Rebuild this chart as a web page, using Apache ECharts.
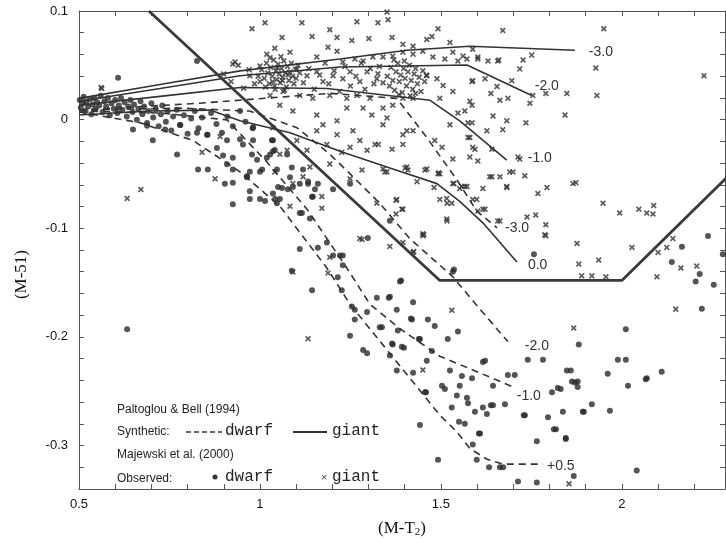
<!DOCTYPE html>
<html>
<head>
<meta charset="utf-8">
<script src="https://cdn.jsdelivr.net/npm/echarts@6/dist/echarts.min.js"></script>
<style>
  html, body { margin: 0; padding: 0; background: #fff; }
  #chart { width: 726px; height: 543px; }
</style>
</head>
<body>
<div id="chart"></div>
<script>
// tick labels
const xTickLabels = [0.5, 1, 1.5, 2];
const yTickLabels = [0.1, 0, -0.1, -0.2, -0.3];

// Paltoglou & Bell (1994) synthetic giants (solid), one per [Fe/H]
const giantM30 = [[0.5,0.0196],[0.724,0.0323],[0.945,0.0449],[1.221,0.0558],[1.406,0.0639],[1.58,0.0675],[1.87,0.0639]];
const giantM20 = [[0.5,0.0169],[0.724,0.0287],[0.945,0.0404],[1.221,0.0485],[1.572,0.0503],[1.751,0.0223]];
const giantM10 = [[0.5,0.0133],[0.724,0.0214],[0.945,0.0296],[1.185,0.0287],[1.47,0.0178],[1.552,-0.0011],[1.682,-0.0372]];
const giantP00 = [[0.5,0.0043],[0.696,0.0079],[0.862,0.0088],[0.945,-0.0011],[1.083,-0.012],[1.229,-0.030],[1.359,-0.0445],[1.489,-0.0589],[1.552,-0.0752],[1.616,-0.095],[1.71,-0.1311]];

// synthetic dwarfs (dashed)
const dwarfM30 = [[0.5,0.0088],[0.834,0.0151],[1.193,0.0242],[1.378,0.0196],[1.461,-0.0165],[1.544,-0.0553],[1.599,-0.0842],[1.655,-0.0996]];
const dwarfM20 = [[0.5,0.0088],[0.779,0.0106],[0.972,0.0079],[1.102,-0.0074],[1.193,-0.0318],[1.249,-0.0499],[1.331,-0.077],[1.414,-0.1095],[1.533,-0.1447],[1.608,-0.1745],[1.685,-0.2043]];
const dwarfM10 = [[0.5,0.0079],[0.724,0.0061],[0.909,-0.0002],[1.019,-0.039],[1.13,-0.0824],[1.24,-0.1366],[1.304,-0.17],[1.387,-0.1925],[1.497,-0.2178],[1.608,-0.2332],[1.704,-0.2467]];
const dwarfP05 = [[0.5,0.007],[0.669,-0.0029],[0.815,-0.0192],[0.945,-0.0481],[1.055,-0.0797],[1.185,-0.1366],[1.249,-0.17],[1.387,-0.2268],[1.497,-0.272],[1.544,-0.2873],[1.58,-0.3027],[1.627,-0.3126],[1.671,-0.3171],[1.782,-0.3171]];

// giant selection boundary (thick)
const boundary = [[0.693,0.1],[1.497,-0.148],[2.0,-0.148],[2.3,-0.05]];

// Majewski et al. (2000) observed dwarfs
const dwarfObs = [
  [0.502,0.018],[0.505,0.011],[0.51,0.015],[0.513,0.021],[0.518,0.008],[0.52,0.016],[0.525,0.012],[0.53,0.019],
  [0.534,0.005],[0.538,0.014],[0.542,0.02],[0.546,0.01],[0.55,0.016],[0.556,0.013],[0.56,0.022],[0.565,0.007],
  [0.57,0.017],[0.575,0.012],[0.58,0.02],[0.585,0.004],[0.59,0.015],[0.596,0.01],[0.6,0.018],[0.606,0.006],
  [0.61,0.013],[0.616,0.02],[0.62,0.009],[0.626,0.016],[0.632,0.003],[0.636,0.012],[0.642,0.018],[0.648,0.007],
  [0.652,0.014],[0.66,0.0],[0.664,0.01],[0.67,0.017],[0.675,0.005],[0.68,0.012],[0.688,-0.003],[0.692,0.008],
  [0.7,0.015],[0.705,0.002],[0.712,0.01],[0.72,-0.006],[0.726,0.005],[0.73,0.013],[0.74,-0.002],[0.745,0.008],
  [0.755,-0.01],[0.76,0.003],[0.77,0.009],[0.78,-0.005],[0.79,0.004],[0.8,-0.013],[0.81,0.001],[0.82,0.008],
  [0.83,-0.008],[0.84,0.002],[0.855,-0.014],[0.865,0.006],[0.88,-0.004],[0.895,-0.012],[0.91,0.003],[0.925,-0.006],
  [0.945,0.008],[0.96,-0.002],[0.98,-0.008],
  [0.608,0.0386],[0.826,0.054],[0.649,-0.009],[0.688,-0.0056],[0.704,-0.019],[0.738,-0.009],[0.771,-0.032],
  [0.779,-0.005],[0.826,-0.012],[0.854,-0.014],[0.881,-0.026],[0.898,-0.033],[0.925,-0.035],[0.909,-0.019],
  [0.945,-0.018],[0.978,-0.032],[0.981,-0.007],[0.829,-0.046],[0.856,-0.046],[0.909,-0.041],[0.925,-0.046],
  [0.903,-0.059],[0.925,-0.058],[0.964,-0.052],[0.972,-0.048],[1.0,-0.048],[1.019,-0.035],[1.028,-0.032],
  [1.036,-0.029],[1.075,-0.032],[1.088,-0.044],[1.083,-0.053],[1.036,-0.068],[1.055,-0.073],[1.047,-0.077],
  [1.0,-0.073],[0.972,-0.073],[0.925,-0.078],[1.061,-0.063],[1.091,-0.062],[1.11,-0.059],[1.133,-0.059],
  [1.16,-0.059],[1.11,-0.086],[1.138,-0.091],[1.146,-0.071],[1.11,-0.119],[1.16,-0.118],[1.185,-0.113],
  [1.202,-0.125],[1.229,-0.125],[1.229,-0.134],[1.298,-0.109],[1.249,-0.059],[1.202,-0.064],[1.036,-0.019],
  [1.047,-0.046],[1.077,-0.064],[1.042,-0.073],[1.116,-0.086],[1.144,-0.071],[1.359,-0.093],[0.633,-0.193],
  [1.014,-0.075],[1.088,-0.139],[1.144,-0.157],[1.221,-0.125],[1.215,-0.145],[1.226,-0.157],[1.254,-0.172],
  [1.262,-0.175],[1.296,-0.177],[1.262,-0.184],[1.323,-0.164],[1.359,-0.163],[1.378,-0.175],[1.423,-0.168],
  [1.387,-0.149],[1.42,-0.184],[1.464,-0.184],[1.483,-0.19],[1.249,-0.199],[1.331,-0.191],[1.381,-0.194],
  [1.365,-0.206],[1.392,-0.209],[1.442,-0.202],[1.285,-0.212],[1.296,-0.215],[1.359,-0.217],[1.378,-0.231],
  [1.423,-0.233],[1.475,-0.213],[1.519,-0.202],[1.547,-0.195],[1.533,-0.14],[1.461,-0.222],[1.456,-0.251],
  [1.503,-0.245],[1.511,-0.248],[1.552,-0.245],[1.558,-0.236],[1.586,-0.238],[1.525,-0.231],[1.572,-0.256],
  [1.575,-0.261],[1.544,-0.254],[1.53,-0.265],[1.594,-0.269],[1.616,-0.265],[1.644,-0.263],[1.644,-0.245],
  [1.622,-0.222],[1.685,-0.235],[1.704,-0.235],[1.677,-0.262],[1.732,-0.272],[1.74,-0.221],[1.782,-0.221],
  [1.807,-0.251],[1.796,-0.274],[1.823,-0.247],
  [2.221,-0.174],[2.011,-0.193],[1.881,-0.207],[1.989,-0.221],[2.011,-0.221],[1.848,-0.231],[1.859,-0.231],
  [1.961,-0.234],[1.862,-0.241],[1.878,-0.241],[1.878,-0.246],[2.11,-0.232],[2.066,-0.239],[2.017,-0.245],
  [1.831,-0.248],[1.917,-0.262],[1.892,-0.269],[1.837,-0.269],[1.967,-0.268],[1.812,-0.285],[1.845,-0.293],
  [1.867,-0.328],[2.041,-0.323],
  [1.757,-0.124],[1.536,-0.138],[2.238,-0.107],[2.166,-0.117],[2.138,-0.131],[2.215,-0.142],[2.204,-0.149],
  [2.254,-0.152],[2.279,-0.124],[1.39,-0.148],[1.356,-0.164],[1.417,-0.183],[1.367,-0.207],[1.398,-0.21],
  [1.439,-0.202],[1.616,-0.223],[1.337,-0.191],
  [1.492,-0.313],[1.588,-0.299],[1.599,-0.313],[1.633,-0.32],[1.663,-0.32],[1.672,-0.32],[1.765,-0.296],
  [1.845,-0.294],[1.713,-0.333],[1.765,-0.334],[1.605,-0.289],
  [1.442,-0.281],[1.459,-0.251],[1.55,-0.278],[1.566,-0.28],[1.608,-0.289],[1.818,-0.285],[1.895,-0.269],
  [1.87,-0.242],[2.069,-0.238],[1.627,-0.271],[1.638,-0.263],[1.729,-0.272],
  [0.953,-0.023],[0.981,-0.019],[1.033,-0.019],[0.992,-0.037],[1.041,-0.028],[1.119,-0.046],[1.133,-0.057],
  [1.152,-0.064],[1.05,-0.062],[1.006,-0.046],[0.964,-0.053],[0.972,-0.066]
];

// Majewski et al. (2000) observed giants
const giantObs = [
  [0.978,0.0837],[1.014,0.0892],[1.116,0.0892],[1.061,0.0756],[1.193,0.0828],[1.213,0.0756],[1.268,0.0901],
  [1.326,0.0892],[1.354,0.0919],[1.351,0.099],[1.254,0.0729],[1.301,0.0747],[1.365,0.0756],[1.395,0.0693],
  [1.423,0.0675],[1.461,0.0738],[1.475,0.0765],[1.492,0.0837],[1.525,0.0711],[1.144,0.0765],[1.041,0.0657],
  [1.019,0.0603],[1.083,0.0621],[1.157,0.0576],[1.188,0.0666],[1.213,0.063],[1.229,0.053],[1.262,0.0558],
  [1.285,0.054],[1.312,0.0576],[1.34,0.0576],[1.367,0.0585],[1.395,0.0621],[1.423,0.0603],[1.45,0.063],
  [1.478,0.0576],[1.511,0.0558],[1.533,0.0621],[1.547,0.054],[1.572,0.0558],[1.602,0.0576],[1.63,0.054],
  [1.657,0.054],[1.588,0.0648],
  [1.005,0.046],[1.012,0.038],[1.018,0.052],[1.022,0.043],[1.026,0.033],[1.03,0.048],[1.034,0.04],[1.038,0.055],
  [1.04,0.031],[1.044,0.045],[1.047,0.037],[1.05,0.051],[1.053,0.042],[1.056,0.034],[1.06,0.047],[1.063,0.039],
  [1.066,0.054],[1.07,0.043],[1.073,0.03],[1.076,0.049],[1.08,0.036],[1.083,0.044],[1.087,0.052],[1.09,0.04],
  [1.094,0.033],[1.098,0.046],[1.042,0.028],[1.058,0.058],[1.028,0.057],[1.068,0.027],[1.015,0.03],[1.1,0.038],
  [1.035,0.035],[1.048,0.048],[1.062,0.036],[1.078,0.041],[1.105,0.05],[0.995,0.04],[1.11,0.043],
  [1.352,0.04],[1.358,0.031],[1.362,0.048],[1.367,0.036],[1.372,0.027],[1.376,0.044],[1.381,0.052],[1.385,0.035],
  [1.389,0.041],[1.393,0.025],[1.397,0.047],[1.401,0.038],[1.405,0.031],[1.409,0.044],[1.413,0.05],[1.418,0.036],
  [1.422,0.028],[1.426,0.042],[1.43,0.047],[1.435,0.033],[1.44,0.039],[1.445,0.026],[1.45,0.045],[1.455,0.035],
  [1.46,0.041],[1.384,0.023],[1.399,0.054],[1.415,0.022],[1.37,0.055],[1.43,0.024],[1.34,0.034],
  [1.12,0.034],[1.135,0.047],[1.15,0.028],[1.165,0.041],[1.18,0.052],[1.19,0.033],[1.205,0.045],[1.22,0.026],
  [1.235,0.049],[1.25,0.031],[1.265,0.04],[1.28,0.052],[1.29,0.028],[1.305,0.047],[1.315,0.033],[1.33,0.049],
  [0.9,0.042],[0.92,0.035],[0.94,0.05],[0.955,0.029],[0.97,0.046],[0.985,0.033],[0.931,0.0531],[0.925,0.0512],
  [1.0,0.0494],[1.326,0.0422],[0.561,0.0296],[0.563,0.0287],
  [0.972,0.0404],[1.0,0.035],[1.102,0.0467],[1.13,0.0404],[1.157,0.044],[1.174,0.035],[1.202,0.0404],
  [1.229,0.0377],[1.249,0.044],[1.276,0.035],[1.296,0.044],[1.323,0.0377],[1.461,0.0404],[1.489,0.0377],
  [1.506,0.0314],[1.533,0.026],[1.497,0.0196],[1.423,0.0196],[1.395,0.0196],[1.367,0.0133],[1.304,0.0196],
  [1.268,0.0223],[1.24,0.0196],[1.193,0.0223],[1.146,0.0196],[1.11,0.0223],[1.064,0.026],[1.028,0.0223],
  [1.055,0.0133],[1.091,0.0079],[1.157,0.0043],[1.174,-0.0047],[1.213,-0.0011],[1.24,0.0106],[1.285,0.0106],
  [1.309,0.0043],[1.34,0.0106],[1.351,0.0016],[1.395,-0.0138],[1.406,-0.0102],[1.423,-0.0102],[1.318,-0.0228],
  [1.327,-0.0228],[1.365,-0.0273],[1.395,-0.0228],[1.409,-0.0463],[1.456,-0.0463],[1.492,-0.0499],
  [1.558,-0.0616],[1.533,-0.0363],[1.525,-0.0047],[1.547,0.0061],[1.575,-0.0029],[1.586,0.0133],
  [1.588,-0.0255],[1.627,-0.0102],[1.644,0.0034],[1.638,0.0241],[1.483,-0.0192],[1.503,-0.0255],
  [1.34,-0.0047],[1.257,-0.0102],[1.276,-0.0192],[1.213,-0.0138],[1.185,-0.0228],[1.13,-0.0282],
  [1.102,-0.0192],[1.075,-0.0282],[1.055,-0.0318],[1.036,-0.0074],[1.157,-0.0102],[1.249,-0.0255],
  [1.296,-0.0282],[1.226,-0.03],[1.282,-0.0463],[1.34,-0.0454],[1.351,-0.0481],[1.193,-0.0409],
  [1.138,-0.0436],[1.091,-0.0589],
  [1.406,-0.0436],[1.497,-0.0499],[1.533,-0.0589],[1.572,-0.0616],[1.516,-0.0725],[1.53,-0.077],
  [1.588,-0.0734],[1.616,-0.0824],[1.663,-0.0932],[1.682,-0.0616],[1.663,-0.0526],[1.58,-0.0345],
  [1.641,-0.0273],[1.69,-0.0481],[1.378,-0.0734],[1.323,-0.077],[1.395,-0.0824],[1.45,-0.1051],
  [1.516,-0.0914],[1.276,-0.1095],[1.171,-0.0815],[1.083,-0.0797],[1.119,-0.0526],[1.249,-0.0544],
  [1.586,0.035],[1.622,0.0377],[1.655,0.0305],[1.663,0.0178],[1.685,0.0196],[1.682,-0.0011],[1.671,-0.0092],
  [1.713,-0.0345],[1.566,0.0079],[1.58,-0.0165],
  [1.671,0.082],[1.95,0.0837],[1.561,0.0585],[1.602,0.0558],[1.66,0.0549],[1.727,0.0549],[1.751,0.0594],
  [1.718,0.0467],[1.928,0.0476],[1.588,0.0359],[1.696,0.0359],[1.754,0.0223],[1.79,0.0241],[1.848,0.0241],
  [1.931,0.0223],[1.58,0.0169],[1.746,0.0151],[1.843,0.0043],[1.586,-0.0029],[1.735,-0.0029],[1.575,-0.0165],
  [1.594,-0.0273],[1.602,-0.0381],[1.718,-0.0363],[1.699,-0.0481],[1.732,-0.0517],[1.641,-0.0526],
  [1.566,-0.0616],[1.616,-0.0634],[1.682,-0.0625],[1.768,-0.068],[1.793,-0.0625],[1.865,-0.0589],
  [1.873,-0.0580],[2.227,0.0404],
  [1.345,-0.0481],[1.401,-0.0445],[1.434,-0.0571],[1.461,-0.0454],[1.494,-0.049],[1.481,-0.0625],
  [1.536,-0.0589],[1.552,-0.0634],[1.497,-0.0734],[1.517,-0.077],[1.599,-0.0734],[1.602,-0.0842],
  [1.622,-0.0824],[1.657,-0.0932],[1.635,-0.0526],[1.738,-0.0896],[1.762,-0.0878],[1.79,-0.0968],
  [1.79,-0.1068],[1.948,-0.077],[1.994,-0.086],[2.047,-0.0824],[2.069,-0.086],[2.086,-0.0869],[2.088,-0.079],
  [1.876,-0.114],[1.936,-0.1293],[1.881,-0.133],[1.889,-0.1438],[1.917,-0.1438],[1.956,-0.1447],
  [2.028,-0.1176],[2.1,-0.1222],[2.124,-0.1176],[2.141,-0.1095],[2.163,-0.1366],[2.207,-0.1348],
  [2.097,-0.1447],[2.149,-0.1745],[1.867,-0.1918],[1.376,-0.0743],[1.392,-0.0824],[1.376,-0.0869],
  [1.45,-0.1068],[1.359,-0.1167],[1.423,-0.1222],[1.517,-0.0932],[1.53,-0.1754],
  [1.282,-0.1104],[1.395,-0.1131],[1.425,-0.1213],[1.453,-0.1059],[1.091,-0.1402],[1.193,-0.1267],
  [1.188,-0.1411],[1.133,-0.2016],[1.45,-0.2305],[1.787,-0.1059],
  [0.633,-0.0725],[0.671,-0.0643],[0.876,-0.0544],[0.89,-0.0156],[0.84,-0.03],[1.041,-0.0481],
  [1.171,-0.0707],[1.854,-0.3352]
];

const ink = '#333';
const tickFont = { fontFamily: 'Liberation Sans', fontSize: 13, color: '#111' };
const crossPath = 'path://M0,2L2,0L5,3L8,0L10,2L7,5L10,8L8,10L5,7L2,10L0,8L3,5Z';

function onTick(list, v) {
  return list.some(t => Math.abs(t - v) < 1e-6);
}

function curve(data, label, dashed, offset) {
  return {
    type: 'line',
    data: data,
    showSymbol: false,
    silent: true,
    lineStyle: { color: ink, width: 1.6, type: dashed ? [7, 5] : 'solid' },
    endLabel: {
      show: true,
      formatter: label,
      distance: 0,
      offset: offset,
      fontFamily: 'Liberation Sans',
      fontSize: 14,
      color: ink
    },
    z: 3
  };
}

const chart = echarts.init(document.getElementById('chart'), null, { renderer: 'canvas' });

const frameAxis = {
  axisLine: { show: true, onZero: false, lineStyle: { color: '#555', width: 1 } },
  axisTick: { show: true, inside: true, length: 5, lineStyle: { color: '#555' } },
  splitLine: { show: false }
};

chart.setOption({
  animation: false,
  backgroundColor: '#fff',
  grid: { left: 79, top: 11, width: 646, height: 487 },
  xAxis: [
    Object.assign({}, frameAxis, {
      type: 'value', min: 0.5, max: 2.285, interval: 0.1, position: 'bottom',
      axisLabel: Object.assign({}, tickFont, {
        margin: 9, interval: 0, showMaxLabel: false,
        formatter: v => onTick(xTickLabels, v) ? String(Math.round(v * 10) / 10) : ''
      }),
      name: '(M-T{s|2})',
      nameLocation: 'middle',
      nameGap: 30,
      nameTextStyle: {
        fontFamily: 'Liberation Serif', fontSize: 17, color: '#111',
        rich: { s: { fontFamily: 'Liberation Serif', fontSize: 11, color: '#111', verticalAlign: 'bottom', padding: [8, 0, 0, 0] } }
      }
    }),
    Object.assign({}, frameAxis, {
      type: 'value', min: 0.5, max: 2.285, interval: 0.1, position: 'top',
      axisLabel: { show: false }
    })
  ],
  yAxis: [
    Object.assign({}, frameAxis, {
      type: 'value', min: -0.34, max: 0.1, interval: 0.02, position: 'left',
      axisLabel: Object.assign({}, tickFont, {
        margin: 11, interval: 0,
        formatter: v => onTick(yTickLabels, v) ? String(Math.round(v * 10) / 10) : ''
      })
    }),
    Object.assign({}, frameAxis, {
      type: 'value', min: -0.34, max: 0.1, interval: 0.02, position: 'right',
      axisLabel: { show: false }
    })
  ],
  graphic: [
    { type: 'text', left: 13, top: 250, rotation: Math.PI / 2,
      style: { text: '(M-51)', font: '17px "Liberation Serif"', fill: '#111' } },
    { type: 'text', x: 117, y: 410, style: { text: 'Paltoglou & Bell (1994)', font: '12px "Liberation Sans"', fill: '#222', verticalAlign: 'middle' } },
    { type: 'text', x: 117, y: 432, style: { text: 'Synthetic:', font: '12px "Liberation Sans"', fill: '#222', verticalAlign: 'middle' } },
    { type: 'line', shape: { x1: 186, y1: 432, x2: 222, y2: 432 }, style: { stroke: ink, lineWidth: 1.5, lineDash: [5, 3] } },
    { type: 'text', x: 225, y: 431, style: { text: 'dwarf', font: '16px "Liberation Mono"', fill: '#222', verticalAlign: 'middle' } },
    { type: 'line', shape: { x1: 293, y1: 432, x2: 327, y2: 432 }, style: { stroke: ink, lineWidth: 1.8 } },
    { type: 'text', x: 332, y: 431, style: { text: 'giant', font: '16px "Liberation Mono"', fill: '#222', verticalAlign: 'middle' } },
    { type: 'text', x: 117, y: 455, style: { text: 'Majewski et al. (2000)', font: '12px "Liberation Sans"', fill: '#222', verticalAlign: 'middle' } },
    { type: 'text', x: 117, y: 479, style: { text: 'Observed:', font: '12px "Liberation Sans"', fill: '#222', verticalAlign: 'middle' } },
    { type: 'circle', shape: { cx: 215, cy: 477, r: 2.5 }, style: { fill: ink } },
    { type: 'text', x: 225, y: 477, style: { text: 'dwarf', font: '16px "Liberation Mono"', fill: '#222', verticalAlign: 'middle' } },
    { type: 'text', x: 321, y: 478, style: { text: '×', font: '11px "Liberation Sans"', fill: '#444', verticalAlign: 'middle' } },
    { type: 'text', x: 332, y: 477, style: { text: 'giant', font: '16px "Liberation Mono"', fill: '#222', verticalAlign: 'middle' } }
  ],
  series: [
    {
      type: 'scatter', data: dwarfObs, symbol: 'circle', symbolSize: 6,
      itemStyle: { color: '#2a2a2a' }, silent: true, z: 2
    },
    {
      type: 'scatter', data: giantObs, symbol: crossPath, symbolSize: 6,
      itemStyle: { color: '#333' }, silent: true, z: 2
    },
    curve(giantM30, '-3.0', false, [14, 2]),
    curve(giantM20, '-2.0', false, [3, -9]),
    curve(giantM10, '-1.0', false, [21, -2]),
    curve(giantP00, '0.0', false, [11, 3]),
    curve(dwarfM30, '-3.0', true, [8, 0]),
    curve(dwarfM20, '-2.0', true, [17, 5]),
    curve(dwarfM10, '-1.0', true, [2, 8]),
    curve(dwarfP05, '+0.5', true, [4, 2]),
    {
      type: 'line', data: boundary, showSymbol: false, silent: true,
      lineStyle: { color: '#3a3a3a', width: 2.8 }, z: 4
    }
  ]
});
</script>
</body>
</html>
